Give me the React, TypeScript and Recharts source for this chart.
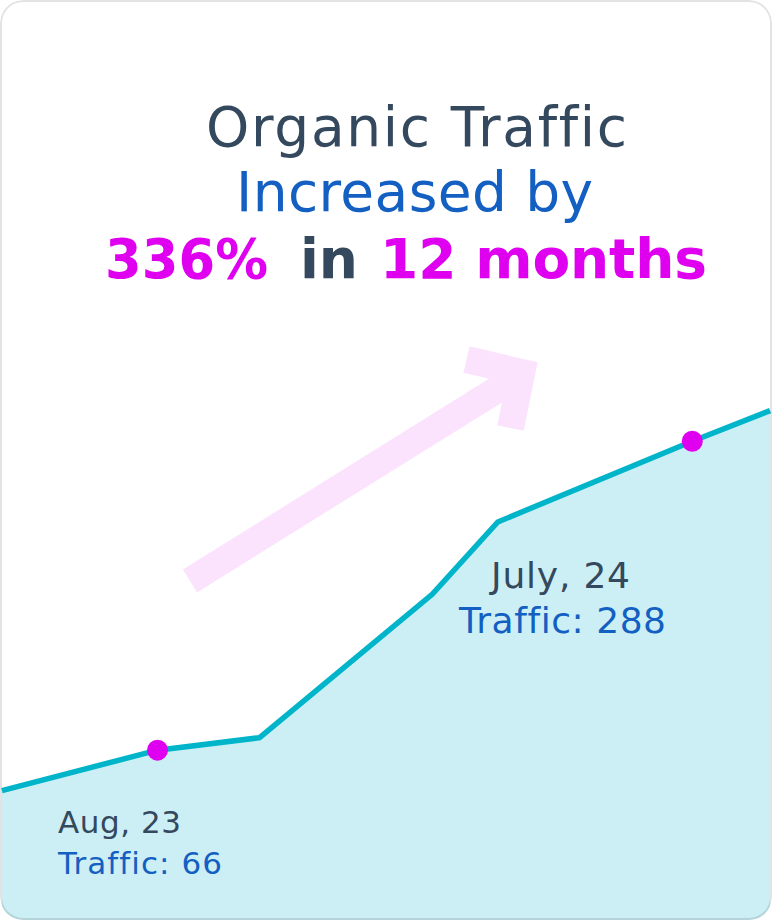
import { AreaChart, Area, XAxis, YAxis } from 'recharts';

// month offset from Aug 23 (0) to July 24 (11); outer points run to the card edges
const monthIndex = [-3.2, 0, 2.1, 5.65, 7, 11, 12.6];
const traffic = [37, 66, 75, 178, 230, 288, 310];
const highlighted = [0, 11];

const data = monthIndex.map((m, i) => ({ m, traffic: traffic[i] }));

const W = 772;
const H = 920;
const FONT = '"DejaVu Sans", sans-serif';
const DARK = '#34485e';
const BLUE = '#135fc2';
const MAGENTA = '#e000f0';

function HighlightDot(props: any) {
  const { cx, cy, payload, index } = props;
  if (!highlighted.includes(payload.m)) return <g key={index} />;
  return <circle key={index} cx={cx} cy={cy} r={10.5} fill={MAGENTA} stroke="none" />;
}

export default function App() {
  return (
    <div
      style={{
        position: 'absolute',
        left: 0,
        top: 0,
        width: W,
        height: H,
        borderRadius: 23,
        overflow: 'hidden',
        background: '#fff',
      }}
    >
      <AreaChart width={W} height={H} data={data} margin={{ top: 0, right: 0, bottom: 0, left: 0 }}>
        <XAxis dataKey="m" type="number" domain={[-3.24, 12.64]} hide />
        <YAxis type="number" domain={[-56, 605]} hide />
        <Area
          type="linear"
          dataKey="traffic"
          stroke="#00b5c9"
          strokeWidth={5.5}
          fill="#cceff5"
          fillOpacity={1}
          baseValue={-56}
          dot={HighlightDot}
          activeDot={false}
          isAnimationActive={false}
        />
      </AreaChart>
      <svg
        width={W}
        height={H}
        style={{ position: 'absolute', left: 0, top: 0, fontVariantLigatures: 'none' }}
      >
        <path d="M190 581 L514 379" stroke="#fbe3fd" strokeWidth={27} fill="none" />
        <path d="M466.5 359.5 L521.8 372.5 L510.5 428" stroke="#fbe3fd" strokeWidth={27} fill="none" strokeLinejoin="miter" />

        <text x={206} y={146} fontFamily={FONT} fontSize={55} fill={DARK} textLength={421} lengthAdjust="spacing">Organic Traffic</text>
        <text x={236} y={211} fontFamily={FONT} fontSize={55} fill={BLUE} textLength={357} lengthAdjust="spacing">Increased by</text>
        <text x={105} y={278} fontFamily={FONT} fontSize={55} fontWeight="bold" fill={MAGENTA} textLength={163} lengthAdjust="spacingAndGlyphs">336%</text>
        <text x={300} y={278} fontFamily={FONT} fontSize={55} fontWeight="bold" fill={DARK}>in</text>
        <text x={380} y={278} fontFamily={FONT} fontSize={55} fontWeight="bold" fill={MAGENTA} textLength={327} lengthAdjust="spacing">12 months</text>

        <text x={58} y={833} fontFamily={FONT} fontSize={31} fill={DARK} textLength={123} lengthAdjust="spacing">Aug, 23</text>
        <text x={58} y={874} fontFamily={FONT} fontSize={31} fill={BLUE} textLength={164} lengthAdjust="spacing">Traffic: 66</text>
        <text x={491} y={588} fontFamily={FONT} fontSize={36} fill={DARK} textLength={139} lengthAdjust="spacing">July, 24</text>
        <text x={459} y={633} fontFamily={FONT} fontSize={36} fill={BLUE} textLength={207} lengthAdjust="spacing">Traffic: 288</text>

        <rect x={1} y={1} width={W - 2} height={H - 2} rx={22} fill="none" stroke="rgba(0,0,0,0.11)" strokeWidth={2} />
      </svg>
    </div>
  );
}
